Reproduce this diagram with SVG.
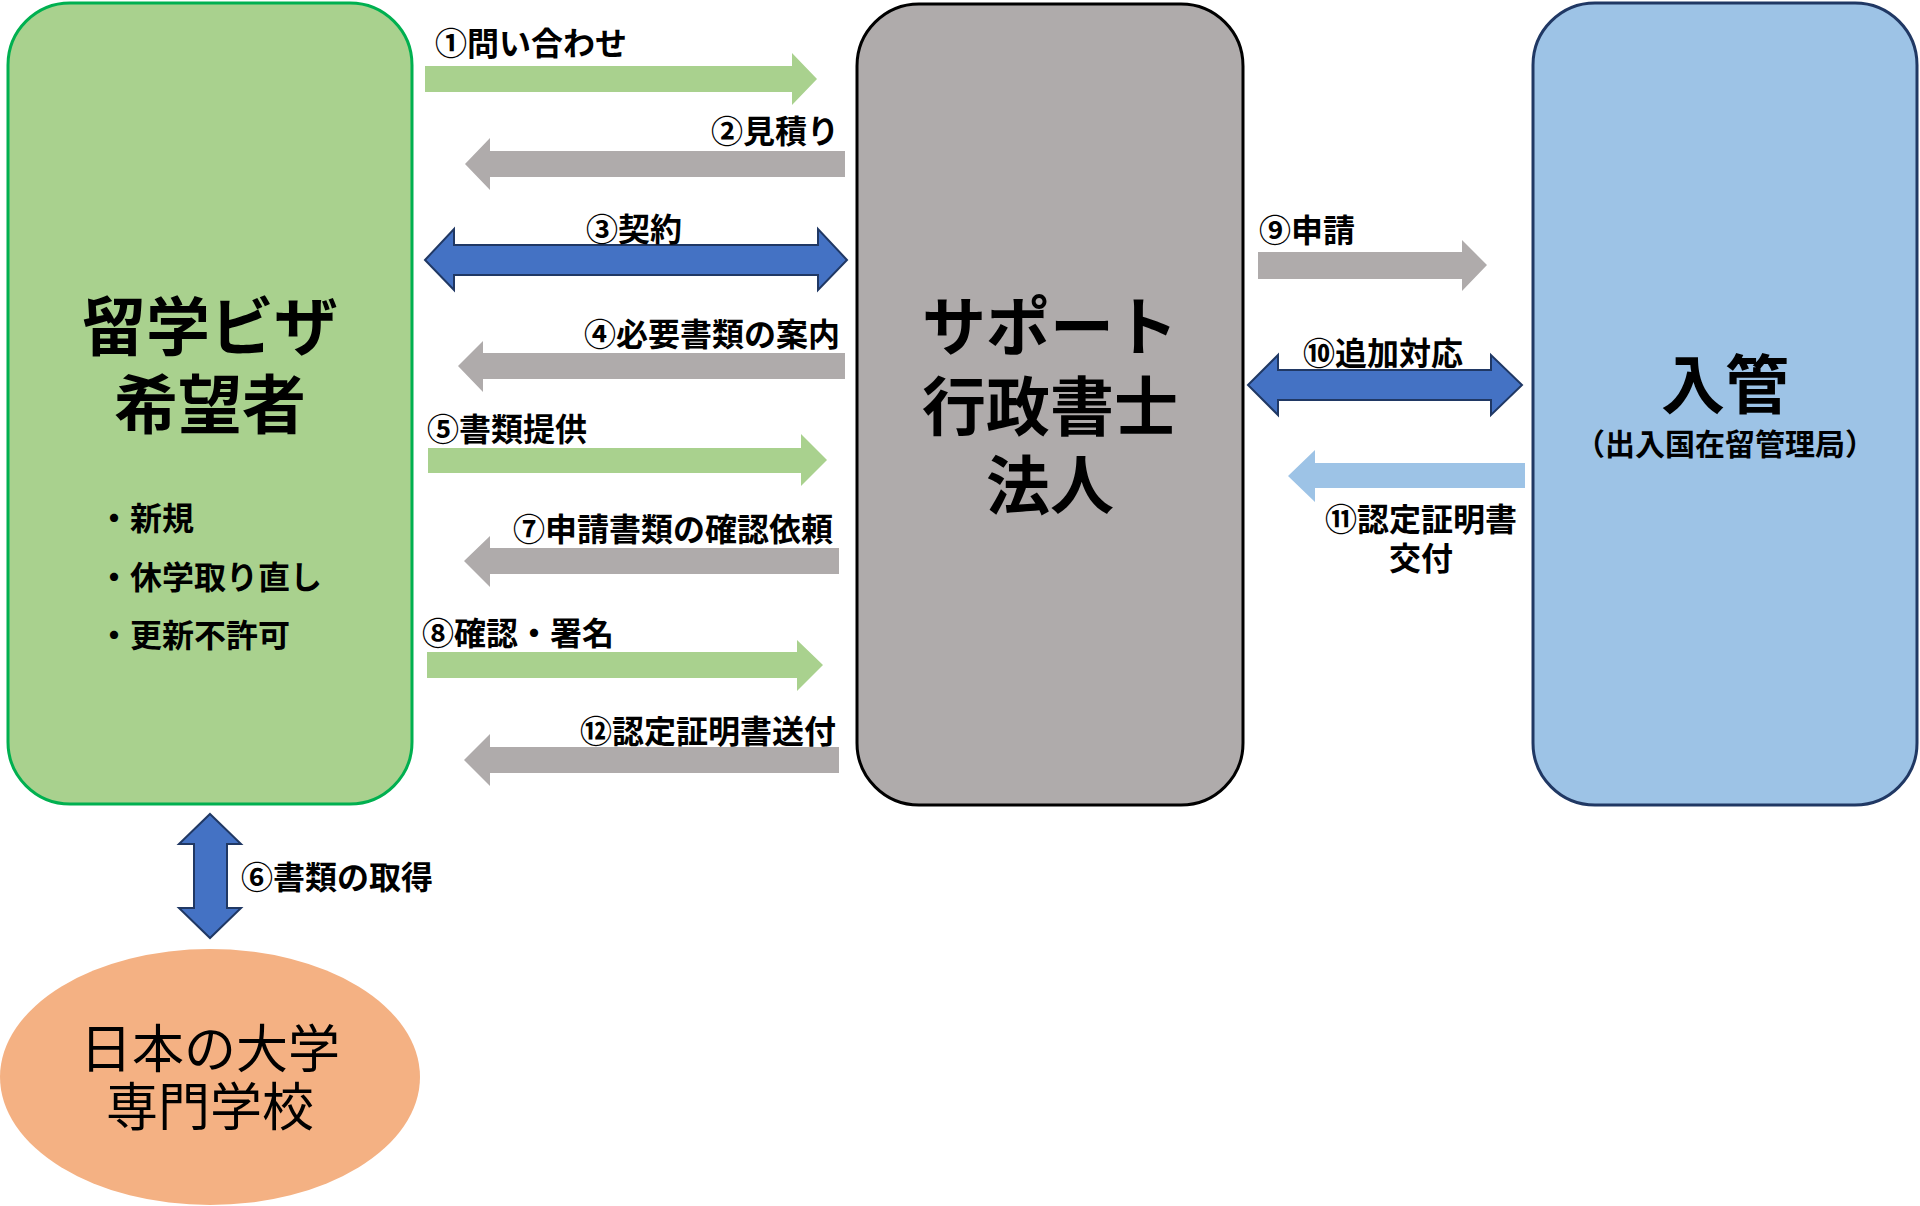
<svg xmlns="http://www.w3.org/2000/svg" width="1920" height="1206" viewBox="0 0 1920 1206">
<style>
text{font-family:"Noto Sans CJK JP","Noto Sans CJK SC",sans-serif;font-weight:bold;fill:#000;dominant-baseline:central}
.big{font-size:64px;text-anchor:middle}
.lbl{font-size:32px}
.mid{text-anchor:middle}
.end{text-anchor:end}
.green{fill:#A9D18E}
.gray{fill:#AFABAB}
.blue{fill:#4472C4;stroke:#203864;stroke-width:2;stroke-linejoin:miter}
.lblue{fill:#9DC3E6}
</style>
<rect width="1920" height="1206" fill="#fff"/>
<g id="applicant">
<rect x="8" y="3" width="404" height="801" rx="62" ry="62" fill="#A9D18E" stroke="#00B050" stroke-width="3"/>
<text class="big" x="210" y="322">留学ビザ<tspan x="210" dy="78">希望者</tspan></text>
<text class="lbl" x="98" y="516">・新規<tspan x="98" dy="59">・休学取り直し</tspan><tspan x="98" dy="58">・更新不許可</tspan></text>
</g>
<g id="support">
<rect x="857" y="4" width="386" height="801" rx="62" ry="62" fill="#AFABAB" stroke="#000" stroke-width="3"/>
<text class="big" x="1050" y="322">サポート<tspan x="1050" dy="80">行政書士</tspan><tspan x="1050" dy="79">法人</tspan></text>
</g>
<g id="immigration">
<rect x="1533" y="3" width="384" height="802" rx="62" ry="62" fill="#9DC3E6" stroke="#203864" stroke-width="3"/>
<text class="big" x="1725" y="380">入管</text>
<text class="lbl mid" x="1725" y="442" style="font-size:30px">（出入国在留管理局）</text>
</g>
<g id="school">
<ellipse cx="210" cy="1077" rx="210" ry="128" fill="#F4B183"/>
<text class="mid" x="210" y="1045" style="font-size:52px;font-weight:normal">日本の大学<tspan x="210" dy="58">専門学校</tspan></text>
</g>
<g id="connectors">
<polygon class="green" points="425,66 792,66 792,53 817,79 792,105 792,92 425,92"/>
<text class="lbl" x="435" y="41">①問い合わせ</text>
<polygon class="gray" points="845,151 490,151 490,138 465,164 490,190 490,177 845,177"/>
<text class="lbl end" x="839" y="129">②見積り</text>
<polygon class="blue" points="425,260 454,229 454,245 818,245 818,229 847,260 818,290 818,275 454,275 454,290"/>
<text class="lbl mid" x="634" y="227">③契約</text>
<polygon class="gray" points="845,353 483,353 483,341 458,366 483,392 483,379 845,379"/>
<text class="lbl end" x="840" y="332">④必要書類の案内</text>
<polygon class="green" points="428,448 801,448 801,434 827,460 801,486 801,473 428,473"/>
<text class="lbl" x="427" y="427">⑤書類提供</text>
<polygon class="blue" points="210,814 241,844 227,844 227,908 241,908 210,938 179,908 194,908 194,844 179,844"/>
<text class="lbl" x="241" y="875">⑥書類の取得</text>
<polygon class="gray" points="839,548 490,548 490,536 464,561 490,587 490,574 839,574"/>
<text class="lbl end" x="833" y="527">⑦申請書類の確認依頼</text>
<polygon class="green" points="427,652 797,652 797,640 823,665 797,691 797,678 427,678"/>
<text class="lbl" x="422" y="631">⑧確認・署名</text>
<polygon class="gray" points="839,747 490,747 490,734 464,760 490,786 490,773 839,773"/>
<text class="lbl end" x="836" y="729">⑫認定証明書送付</text>
<polygon class="gray" points="1258,252 1462,252 1462,240 1487,265 1462,291 1462,279 1258,279"/>
<text class="lbl" x="1259" y="228">⑨申請</text>
<polygon class="blue" points="1248,385 1278,355 1278,370 1491,370 1491,355 1522,385 1491,415 1491,400 1278,400 1278,415"/>
<text class="lbl mid" x="1383" y="351">⑩追加対応</text>
<polygon class="lblue" points="1525,463 1315,463 1315,450 1288,476 1315,502 1315,488 1525,488"/>
<text class="lbl mid" x="1421" y="517">⑪認定証明書<tspan x="1421" dy="39">交付</tspan></text>
</g>
</svg>
